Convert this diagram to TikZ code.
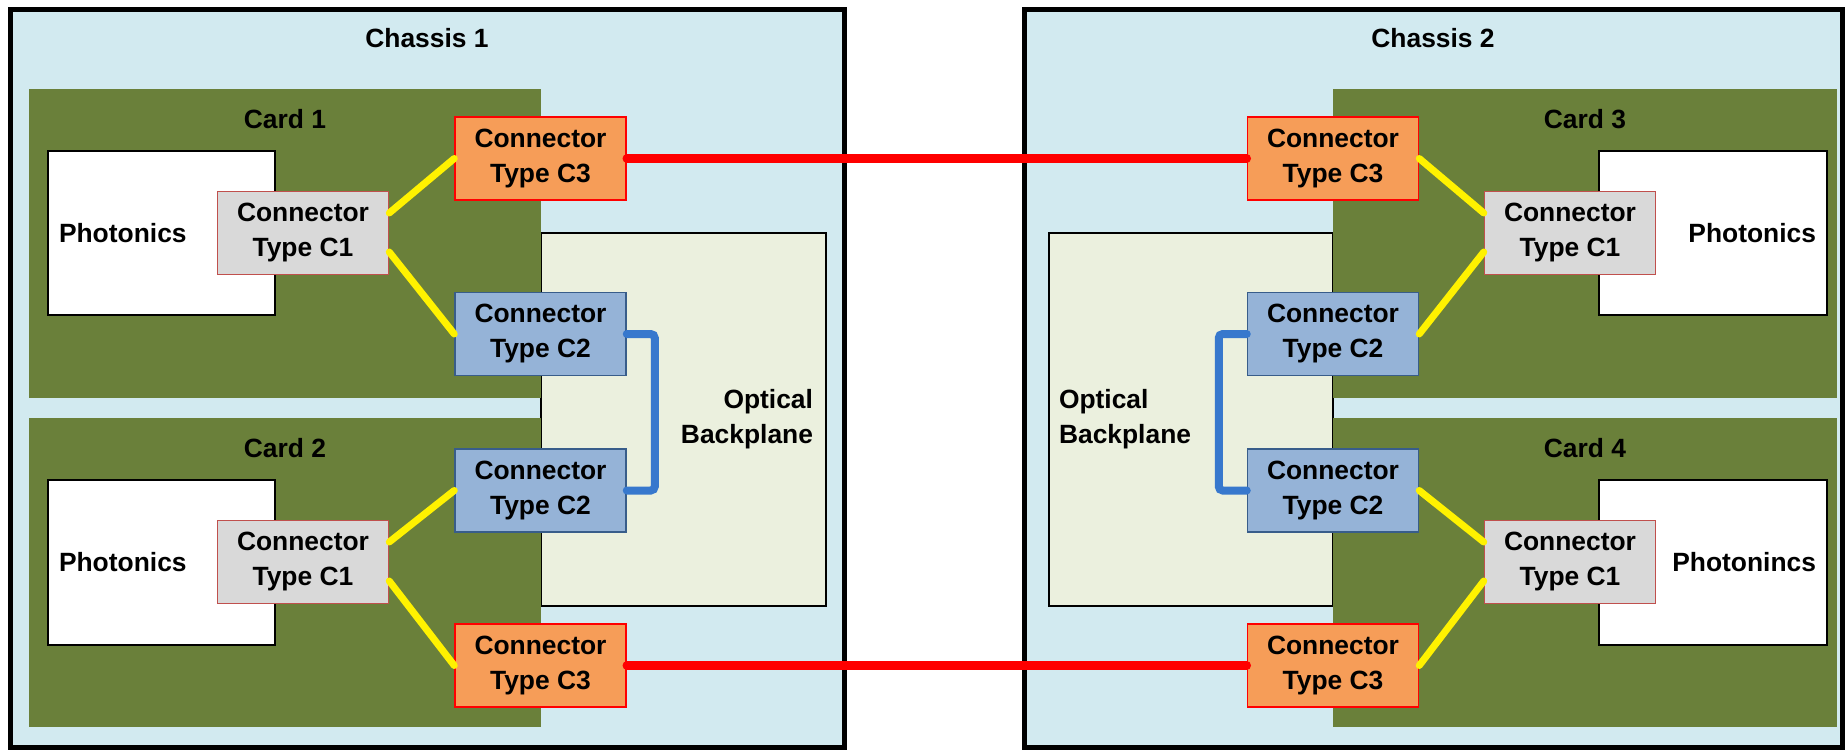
\documentclass[tikz,border=0pt]{standalone}
\usepackage{fontspec}
\setmainfont{Liberation Sans}
\definecolor{chassisblue}{RGB}{210,234,240}
\definecolor{cardgreen}{RGB}{106,128,58}
\definecolor{bpgreen}{RGB}{235,240,222}
\definecolor{cgray}{RGB}{217,217,217}
\definecolor{cgrayedge}{RGB}{192,80,77}
\definecolor{corange}{RGB}{246,157,88}
\definecolor{cblue}{RGB}{149,179,215}
\definecolor{cblueedge}{RGB}{56,93,138}
\definecolor{fibblue}{RGB}{55,120,205}

\begin{document}
\begin{tikzpicture}[x=1pt,y=-1pt,
  every node/.style={font=\fontsize{26.4}{35}\selectfont\bfseries,inner sep=0pt,align=center},
  chassis/.style={rectangle,draw=black,line width=5pt,fill=chassisblue},
  card/.style={rectangle,fill=cardgreen},
  backplane/.style={rectangle,draw=black,line width=1.5pt,fill=bpgreen},
  pho/.style={rectangle,draw=black,line width=2pt,fill=white},
  conn/.style={rectangle,minimum width=171pt,minimum height=83pt,line width=1.5pt},
  c1box/.style={conn,fill=cgray,draw=cgrayedge},
  c2box/.style={conn,fill=cblue,draw=cblueedge},
  c3box/.style={conn,fill=corange,draw=red},
  yfib/.style={yellow,line width=7pt,line cap=round},
  rfib/.style={red,line width=8.5pt,line cap=round},
  bfib/.style={fibblue,line width=8pt,line cap=round,rounded corners=4pt}]
\useasboundingbox (0,0) rectangle (1847,750);

%chassis
\node[chassis,minimum width=834pt,minimum height=738pt] (ch1) at (427,378) {};
\node[chassis,minimum width=818pt,minimum height=738pt] (ch2) at (1433,378) {};
\node (ch1lbl) at ([yshift=-32pt]ch1.north) {Chassis 1};
\node (ch2lbl) at ([yshift=-32pt]ch2.north) {Chassis 2};

%optical backplanes
\node[backplane,minimum width=285pt,minimum height=373pt,text width=259pt,align=right] (bp1) at (683.5,419.5) {Optical\\Backplane};
\node[backplane,minimum width=284pt,minimum height=373pt,text width=264pt,align=left] (bp2) at (1191,419.5) {Optical\\Backplane};

%cards
\node[card,minimum width=512pt,minimum height=309pt] (card1) at (285,243.5) {};
\node[card,minimum width=512pt,minimum height=309pt] (card2) at (285,572.5) {};
\node[card,minimum width=504pt,minimum height=309pt] (card3) at (1585,243.5) {};
\node[card,minimum width=504pt,minimum height=309pt] (card4) at (1585,572.5) {};
\node (card1lbl) at ([yshift=-30pt]card1.north) {Card 1};
\node (card2lbl) at ([yshift=-30pt]card2.north) {Card 2};
\node (card3lbl) at ([yshift=-30pt]card3.north) {Card 3};
\node (card4lbl) at ([yshift=-30pt]card4.north) {Card 4};

%photonics
\node[pho,minimum width=227pt,minimum height=164pt,text width=205pt,align=left] (pho1) at (161.5,233) {Photonics};
\node[pho,minimum width=227pt,minimum height=165pt,text width=205pt,align=left] (pho2) at (161.5,562.5) {Photonics};
\node[pho,minimum width=228pt,minimum height=164pt,text width=206pt,align=right] (pho3) at (1713,233) {Photonics};
\node[pho,minimum width=228pt,minimum height=165pt,text width=206pt,align=right] (pho4) at (1713,562.5) {Photonincs};

%connectors
\node[c1box] (card1c1) at (303,233) {Connector\\Type C1};
\node[c3box] (card1c3) at (540.5,158.5) {Connector\\Type C3};
\node[c2box] (card1c2) at (540.5,334) {Connector\\Type C2};
\node[c1box] (card2c1) at (303,562) {Connector\\Type C1};
\node[c2box] (card2c2) at (540.5,490.5) {Connector\\Type C2};
\node[c3box] (card2c3) at (540.5,665.5) {Connector\\Type C3};
\node[c1box] (card3c1) at (1570,233) {Connector\\Type C1};
\node[c3box] (card3c3) at (1333,158.5) {Connector\\Type C3};
\node[c2box] (card3c2) at (1333,334) {Connector\\Type C2};
\node[c1box] (card4c1) at (1570,562) {Connector\\Type C1};
\node[c2box] (card4c2) at (1333,490.5) {Connector\\Type C2};
\node[c3box] (card4c3) at (1333,665.5) {Connector\\Type C3};

%fibres on the cards
\draw[yfib] ([yshift=20pt]card1c1.east) -- (card1c3.west);
\draw[yfib] ([yshift=-19pt]card1c1.east) -- (card1c2.west);
\draw[yfib] ([yshift=20pt]card2c1.east) -- (card2c2.west);
\draw[yfib] ([yshift=-19pt]card2c1.east) -- (card2c3.west);
\draw[yfib] ([yshift=20pt]card3c1.west) -- (card3c3.east);
\draw[yfib] ([yshift=-19pt]card3c1.west) -- (card3c2.east);
\draw[yfib] ([yshift=20pt]card4c1.west) -- (card4c2.east);
\draw[yfib] ([yshift=-19pt]card4c1.west) -- (card4c3.east);

%backplane fibres
\draw[bfib] (card1c2.east) -- ++(28,0) |- (card2c2.east);
\draw[bfib] (card3c2.west) -- ++(-28,0) |- (card4c2.west);

%chassis to chassis
\draw[rfib] (card1c3.east) -- (card3c3.west);
\draw[rfib] (card2c3.east) -- (card4c3.west);
\end{tikzpicture}
\end{document}
